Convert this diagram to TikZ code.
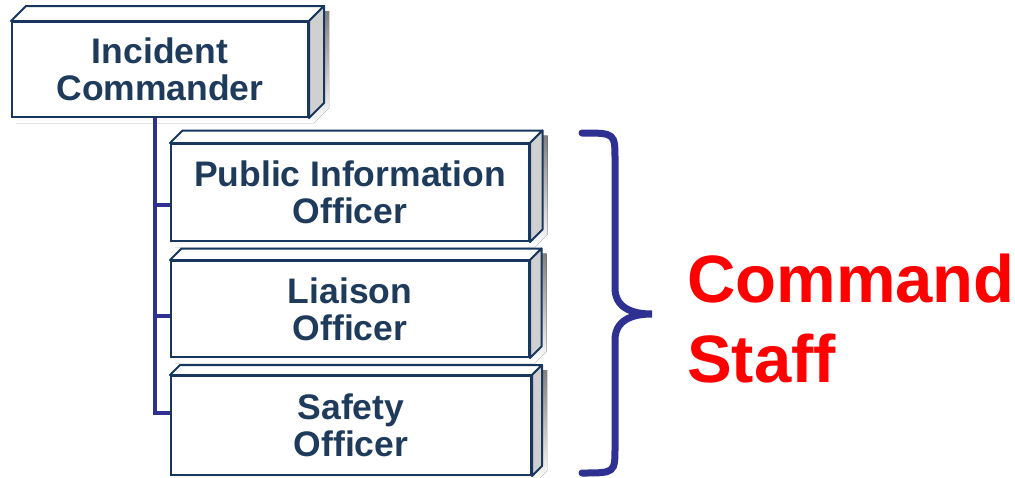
\documentclass[tikz,border=0pt]{standalone}
\usepackage{fontspec}
\setmainfont{Liberation Sans}
\usetikzlibrary{backgrounds}
\definecolor{edge}{HTML}{17375E}
\definecolor{txt}{HTML}{1F3B5C}
\definecolor{conn}{HTML}{2E3192}
\definecolor{shade}{HTML}{98A3B3}
\definecolor{sideface}{HTML}{D0D0D0}
\definecolor{cred}{HTML}{FF0000}
\tikzset{
 box/.style={draw=edge, line width=2pt, fill=white, text=txt, font=\bfseries\fontsize{35.5}{37}\selectfont, align=center, inner sep=0pt},
 face/.style={draw=edge, line width=2pt, line join=round},
 connline/.style={draw=conn, line width=4pt},
 bracestyle/.style={draw=conn, line width=7pt, line cap=round},
 staff/.style={text=cred, font=\bfseries\fontsize{67}{80}\selectfont, anchor=base west, inner sep=0pt}
}
\newcommand\solidbox[2]{%
  \path[face, fill=white] (#1.north west) -- ++(#2,#2) -- ([shift={(#2,#2)}]#1.north east) -- (#1.north east) -- cycle;
  \path[face, fill=sideface] (#1.north east) -- ++(#2,#2) -- ([shift={(#2,#2)}]#1.south east) -- (#1.south east) -- cycle;
  \begin{scope}[on background layer]
  \fill[shade] ([shift={(5,-5)}]#1.south west) -- ([shift={(5,-5)}]#1.south east)
     -- ([shift={({#2+5},{#2-5})}]#1.south east) -- ([shift={({#2+5},{#2-5})}]#1.north east)
     -- ([shift={(5,-5)}]#1.north west) -- cycle;
  \end{scope}
}
\begin{document}
\begin{tikzpicture}[x=1pt,y=1pt]
\useasboundingbox (0,0) rectangle (1015,-477);
\node[box, minimum width=296, minimum height=95] (ic) at (160,-69.5) {Incident\\Commander};
\node[box, minimum width=358, minimum height=97] (pio) at (350,-192.5) {Public Information\\Officer};
\node[box, minimum width=358, minimum height=96] (lo) at (350,-309) {Liaison\\Officer};
\node[box, minimum width=360, minimum height=99] (so) at (351,-425.5) {Safety\\Officer};
\solidbox{ic}{15}
\solidbox{pio}{12.5}
\solidbox{lo}{11.5}
\solidbox{so}{10}
\coordinate (trunk) at ([xshift=-5pt]ic.south);
\begin{scope}[on background layer]
\draw[connline] (trunk) |- ([yshift=12.5pt]so.west);
\draw[connline] ([yshift=-12.5pt]pio.west) -| (trunk);
\draw[connline] ([yshift=-7pt]lo.west) -| (trunk);
\end{scope}
\draw[bracestyle] (582,-133) .. controls (615,-133) .. (615,-160) -- (615,-288)
  .. controls (615,-312) and (640,-314) .. (652,-314)
  .. controls (640,-314) and (615,-316) .. (615,-340) -- (615,-447)
  .. controls (615,-473) .. (582,-473);
\node[staff] (cmd) at (687,-302) {Command};
\node[staff] (stf) at (687,-382) {Staff};
\end{tikzpicture}
\end{document}
